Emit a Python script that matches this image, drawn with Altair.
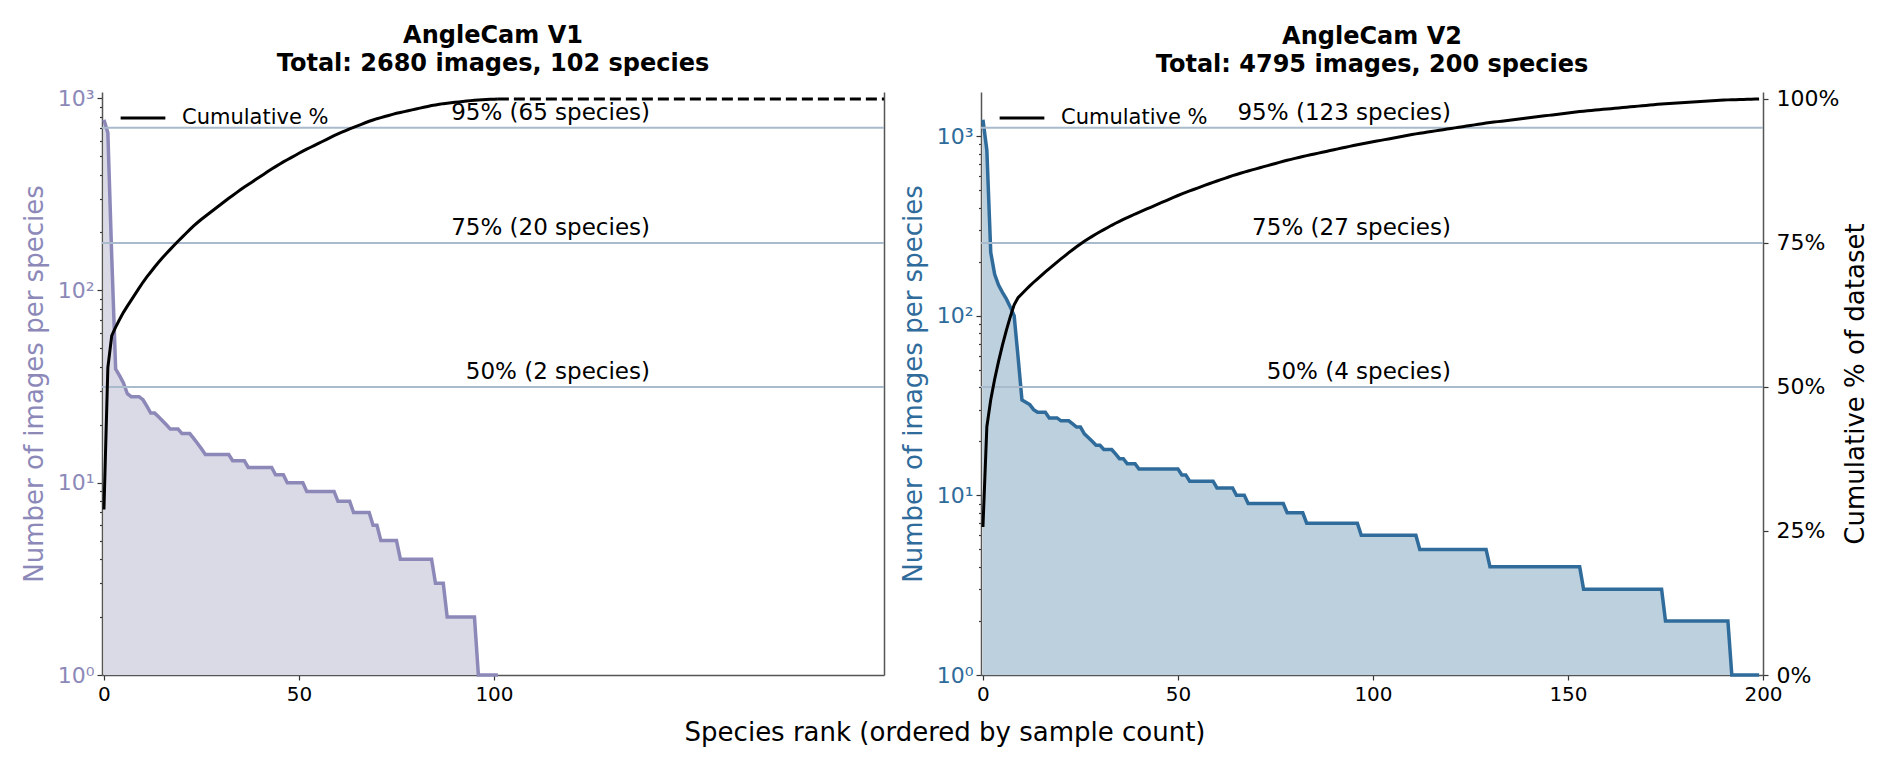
import altair as alt
import pandas as pd

# images per species, ordered by rank
V1_COUNTS = [770, 660, 149, 39, 36, 33, 29, 28, 28, 28,
             27, 25, 23, 23, 22, 21, 20, 19, 19, 19,
             18, 18, 18, 17, 16, 15, 14, 14, 14, 14,
             14, 14, 14, 13, 13, 13, 13, 12, 12, 12,
             12, 12, 12, 12, 11, 11, 11, 10, 10, 10,
             10, 10, 9, 9, 9, 9, 9, 9, 9, 9,
             8, 8, 8, 8, 7, 7, 7, 7, 7, 6,
             6, 5, 5, 5, 5, 5, 4, 4, 4, 4,
             4, 4, 4, 4, 4, 3, 3, 3, 2, 2,
             2, 2, 2, 2, 2, 2, 1, 1, 1, 1,
             1, 1]

V2_COUNTS = [1232, 835, 225, 170, 148, 135, 124, 112, 100, 59,
             34, 33, 32, 30, 29, 29, 29, 27, 27, 27,
             26, 26, 26, 25, 24, 24, 22, 21, 20, 19,
             19, 18, 18, 18, 17, 16, 16, 15, 15, 15,
             14, 14, 14, 14, 14, 14, 14, 14, 14, 14,
             14, 13, 13, 12, 12, 12, 12, 12, 12, 12,
             11, 11, 11, 11, 11, 10, 10, 10, 9, 9,
             9, 9, 9, 9, 9, 9, 9, 9, 8, 8,
             8, 8, 8, 7, 7, 7, 7, 7, 7, 7,
             7, 7, 7, 7, 7, 7, 7, 6, 6, 6,
             6, 6, 6, 6, 6, 6, 6, 6, 6, 6,
             6, 6, 5, 5, 5, 5, 5, 5, 5, 5,
             5, 5, 5, 5, 5, 5, 5, 5, 5, 5,
             4, 4, 4, 4, 4, 4, 4, 4, 4, 4,
             4, 4, 4, 4, 4, 4, 4, 4, 4, 4,
             4, 4, 4, 4, 3, 3, 3, 3, 3, 3,
             3, 3, 3, 3, 3, 3, 3, 3, 3, 3,
             3, 3, 3, 3, 3, 2, 2, 2, 2, 2,
             2, 2, 2, 2, 2, 2, 2, 2, 2, 2,
             2, 2, 1, 1, 1, 1, 1, 1, 1, 1]

THRESHOLDS = [50, 75, 95]
V1_SPECIES_AT = [2, 20, 65]
V2_SPECIES_AT = [4, 27, 123]
V1_LABEL_X = 140
V2_LABEL_X = 120

V1_TITLE = ["AngleCam V1", "Total: 2680 images, 102 species"]
V2_TITLE = ["AngleCam V2", "Total: 4795 images, 200 species"]

X_DOMAIN = [-0.5, 200]
PCT_DOMAIN = [0, 101.2]
PCT_TICKS = [0, 25, 50, 75, 100]
LOG_TICKS = [1, 2, 3, 4, 5, 6, 7, 8, 9,
             10, 20, 30, 40, 50, 60, 70, 80, 90,
             100, 200, 300, 400, 500, 600, 700, 800, 900,
             1000, 2000]

PURPLE = "#8c89b9"
PURPLE_FILL = "#dad9e6"
BLUE = "#306c9b"
BLUE_FILL = "#bdd0de"
HLINE = "#a8bacc"
FONT = "DejaVu Sans"

W, H = 782, 583


def _panel(counts, species_at, label_x, title, *, line_color, fill_color,
           log_max, x_ticks, pct_axis_labels, dashed_tail):
    df = pd.DataFrame({'rank': list(range(len(counts))), 'count': counts})
    base = alt.Chart(df)

    x_scale = alt.Scale(domain=X_DOMAIN, nice=False, zero=False)
    x_axis = alt.Axis(values=x_ticks, title=None, labelFontSize=20, tickSize=5,
                      labelPadding=4, labelFlush=False)

    y_count = alt.Y('count:Q',
                    scale=alt.Scale(type='log', domain=[1, log_max], nice=False),
                    axis=alt.Axis(
                        orient='left',
                        values=[v for v in LOG_TICKS if v <= log_max],
                        labelExpr="datum.value == 1 ? '10\u2070' : datum.value == 10 ? '10\u00b9' : "
                                  "datum.value == 100 ? '10\u00b2' : datum.value == 1000 ? '10\u00b3' : ''",
                        tickSize={"condition": {"test": "indexof([1, 10, 100, 1000], datum.value) >= 0",
                                                "value": 5},
                                  "value": 2.5},
                        labelOverlap=False,
                        labelColor=line_color, labelFontSize=22, labelPadding=3,
                        title="Number of images per species",
                        titleColor=line_color, titleFontSize=26, titleFontWeight='normal',
                        titlePadding=10))

    area = base.mark_area(color=fill_color, opacity=1).encode(
        x=alt.X('rank:Q', scale=x_scale, axis=x_axis),
        y=y_count,
        y2=alt.Y2(datum=1))
    line = base.mark_line(color=line_color, strokeWidth=3.5).encode(
        x=alt.X('rank:Q', scale=x_scale, axis=x_axis),
        y=y_count)
    counts_layer = alt.layer(area, line)

    if pct_axis_labels:
        pct_axis = alt.Axis(orient='right', values=PCT_TICKS, labelExpr="datum.value + '%'",
                            labelFontSize=22, labelColor='black', tickSize=5, labelPadding=8,
                            title="Cumulative % of dataset", titleFontSize=26,
                            titleFontWeight='normal', titleColor='black', titleAngle=270,
                            titleBaseline='top', titlePadding=4, labelFlush=False)
    else:
        pct_axis = alt.Axis(orient='right', labels=False, ticks=False, title=None)

    y_pct = alt.Y('pct:Q', scale=alt.Scale(domain=PCT_DOMAIN, nice=False, zero=False),
                  axis=pct_axis)

    thr = pd.DataFrame({
        'pct': THRESHOLDS,
        'label': [f"{t}% ({s} species)" for t, s in zip(THRESHOLDS, species_at)],
        'lx': [label_x] * len(THRESHOLDS),
    })
    rules = alt.Chart(thr).mark_rule(color=HLINE, strokeWidth=2).encode(y=y_pct)
    labels = alt.Chart(thr).mark_text(align='right', baseline='bottom', dy=-3,
                                      fontSize=23, font=FONT, color='black').encode(
        x=alt.X('lx:Q', scale=x_scale, axis=x_axis),
        y=y_pct,
        text='label:N')

    cum = (base
           .transform_window(cum='sum(count)', frame=[None, 0], sort=[alt.SortField('rank')])
           .transform_joinaggregate(total='sum(count)')
           .transform_calculate(pct='100 * datum.cum / datum.total', series="'Cumulative %'"))

    cum_line = cum.mark_line(strokeWidth=3).encode(
        x=alt.X('rank:Q', scale=x_scale, axis=x_axis),
        y=y_pct,
        color=alt.Color('series:N', scale=alt.Scale(domain=['Cumulative %'], range=['black']),
                        legend=alt.Legend(title=None, orient='none', legendX=17, legendY=2,
                                          symbolType='stroke', symbolSize=2000,
                                          symbolStrokeWidth=3, labelFontSize=21,
                                          labelOffset=15, padding=0, labelFont=FONT)))

    pct_layers = [rules, cum_line, labels]
    if dashed_tail:
        tail = (cum
                .transform_joinaggregate(maxrank='max(rank)')
                .transform_filter('datum.rank == datum.maxrank')
                .mark_rule(color='black', strokeWidth=3, strokeDash=[11, 5])
                .encode(x=alt.X('rank:Q', scale=x_scale, axis=x_axis),
                        x2=alt.X2(datum=X_DOMAIN[1]),
                        y=y_pct))
        pct_layers.append(tail)

    pct_layer = alt.layer(*pct_layers)

    return (alt.layer(counts_layer, pct_layer)
            .resolve_scale(y='independent')
            .properties(width=W, height=H,
                        title=alt.TitleParams(title, fontSize=24, fontWeight='bold',
                                              anchor='middle', frame='group', offset=11,
                                              lineHeight=28, color='black')))


left = _panel(V1_COUNTS, V1_SPECIES_AT, V1_LABEL_X, V1_TITLE,
              line_color=PURPLE, fill_color=PURPLE_FILL, log_max=1075,
              x_ticks=[0, 50, 100], pct_axis_labels=False, dashed_tail=True)
right = _panel(V2_COUNTS, V2_SPECIES_AT, V2_LABEL_X, V2_TITLE,
               line_color=BLUE, fill_color=BLUE_FILL, log_max=1760,
               x_ticks=[0, 50, 100, 150, 200], pct_axis_labels=True, dashed_tail=False)

chart = (alt.hconcat(left, right, spacing=14)
         .resolve_legend(color='independent')
         .resolve_scale(color='independent')
         .properties(title=alt.TitleParams("Species rank (ordered by sample count)",
                                           orient='bottom', anchor='middle', fontSize=26,
                                           fontWeight='normal', color='black', offset=16),
                     padding={"left": 13, "top": 16, "right": 4, "bottom": 4})
         .configure(font=FONT)
         .configure_view(stroke=None)
         .configure_axis(grid=False, domainColor='#555555', domainWidth=1.5,
                         tickColor='#333333', tickWidth=1.2, labelFont=FONT, titleFont=FONT))

chart.save("out.html", embed_options={"renderer": "svg", "actions": False})
